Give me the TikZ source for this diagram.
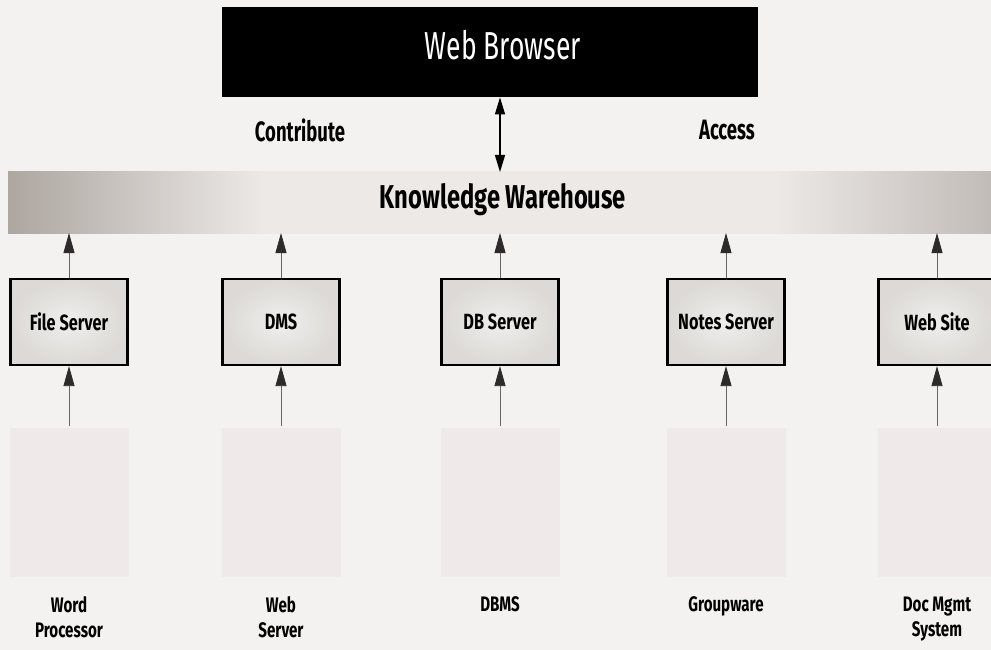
\documentclass[tikz,border=0pt]{standalone}
\usepackage{fontspec}
\setmainfont{Fira Sans}[FakeStretch=0.72]
\usetikzlibrary{arrows.meta}
\definecolor{paper}{HTML}{F3F2F1}
\definecolor{bandgray}{HTML}{ADA6A1}
\definecolor{bandlight}{HTML}{ECE9E6}
\definecolor{bandright}{HTML}{C2BCB8}
\definecolor{srcfill}{HTML}{EFEAE9}
\definecolor{boxfill}{HTML}{E6E3E0}
\definecolor{headcol}{HTML}{2E2A2C}
\pgfdeclarehorizontalshading{bandshade}{100bp}{color(0bp)=(bandgray); color(25bp)=(bandgray); color(38bp)=(bandlight); color(64bp)=(bandlight); color(75bp)=(bandright); color(100bp)=(bandright)}
\tikzset{
  srvbox/.style={draw=black, line width=2.2pt, inner color=boxfill!60!white, outer color=boxfill!90!gray, minimum width=117pt, minimum height=86pt, font=\fontsize{22}{24}\selectfont\bfseries\addfontfeature{FakeStretch=0.74}},
  srcbox/.style={fill=srcfill, minimum width=119pt, minimum height=149pt, inner sep=0pt},
  srclabel/.style={align=center, font=\fontsize{21}{25}\selectfont\bfseries},
  uparrow/.style={draw=gray!80!black, line width=0.8pt, -{Triangle[length=20pt,width=11pt,color=headcol]}},
  toplabel/.style={font=\fontsize{28}{30}\selectfont\bfseries\addfontfeature{FakeStretch=0.66}}
}
\begin{document}
\begin{tikzpicture}[x=1pt,y=-1pt]
\fill[paper] (0,0) rectangle (991,650);
\useasboundingbox (0,0) rectangle (991,650);
% web browser
\node[fill=black, minimum width=536pt, minimum height=90pt, inner sep=0pt, anchor=north west] (wb) at (222,7) {};
\node[text=white, font=\fontsize{39}{40}\selectfont\addfontfeature{FakeStretch=0.68}] (wbt) at (503,45) {Web Browser};
% band
\shade[shading=bandshade] (8,172) rectangle (991,233);
\node[inner sep=0pt, minimum width=983pt, minimum height=61pt, anchor=north west] (kw) at (8,172) {};
\node[font=\fontsize{33}{35}\selectfont\bfseries] (kwt) at (503,200) {Knowledge Warehouse};
\draw[line width=1.3pt, {Triangle[length=17pt,width=10pt]}-{Triangle[length=17pt,width=10pt]}] (wb.south -| 500,0) -- (kw.north -| 500,0);
\node[toplabel] (contrib) at (300,130) {Contribute};
\node[toplabel] (access) at (727,130) {Access};
% columns
\foreach \nm/\x/\lab/\src in {fs/69/File Server/Word\\Processor, dms/281/DMS/Web\\Server, db/500/DB Server/DBMS, ns/726/Notes Server/Groupware, ws/937/Web Site/Doc Mgmt\\System}{
  \node[srvbox] (\nm) at (\x,322) {\lab};
  \node[srcbox] (\nm src) at (\x,502.5) {};
  \node[srclabel, anchor=north] (\nm lab) at (\x,593) {\src};
  \coordinate (\nm top) at (\x,233);
  \coordinate (\nm low) at (\x,426);
  \draw[uparrow] (\nm.north) -- (\nm top);
  \draw[uparrow] (\nm low) -- (\nm.south);
}
\end{tikzpicture}
\end{document}
